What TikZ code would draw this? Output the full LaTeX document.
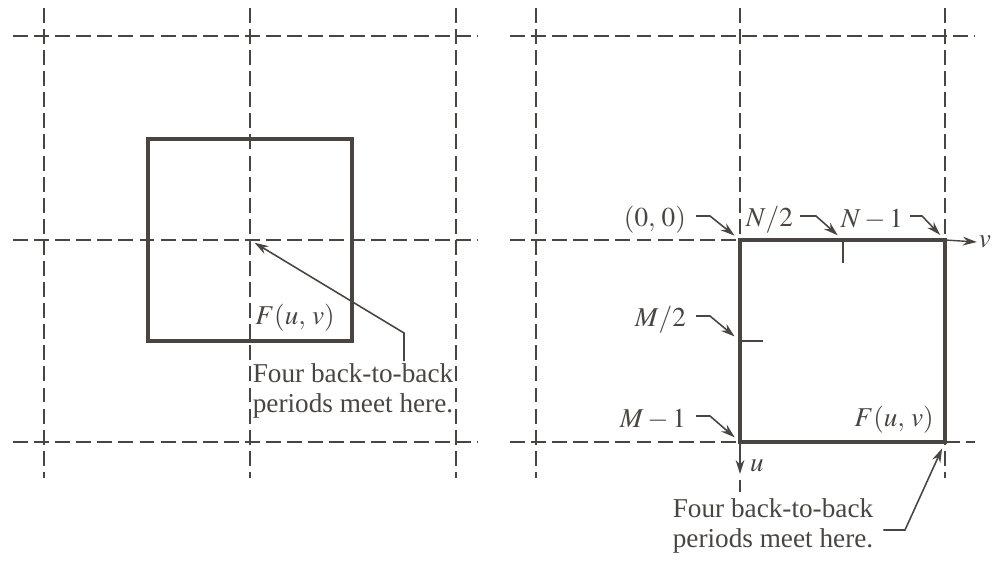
\documentclass[tikz,border=0pt]{standalone}
\usepackage{mathptmx}
\usepackage{fontspec}
\setmainfont{Liberation Serif}
\usetikzlibrary{arrows.meta,positioning}
\definecolor{ink}{HTML}{4A4541}

\begin{document}
\begin{tikzpicture}[
    x=0.02cm, y=-0.02cm,
    font=\fontsize{15.5}{17.5}\selectfont,
    grid/.style={draw=ink, line width=0.6pt, dash pattern=on 8.5pt off 3.5pt},
    period/.style={draw=ink, line width=2.2pt},
    tick/.style={draw=ink, line width=0.7pt},
    axis/.style={draw=ink, line width=0.8pt, -{Stealth[length=8pt,width=5pt]}},
    pointer/.style={draw=ink, line width=0.9pt, -{Stealth[length=8pt,width=5pt]}},
    lbl/.style={text=ink, inner sep=1pt}
]
  \useasboundingbox (0,0) rectangle (994,564);

  % left: four periods around the origin
  \foreach \x in {44,250,456} \draw[grid] (\x,8) -- (\x,478);
  \foreach \y in {36,240,442} \draw[grid] (13,\y) -- (478,\y);
  \draw[period] (148,139) rectangle (352,341);
  \node[lbl] (lF) at (295,318) {$F(u,\,v)$};
  \coordinate (lmeet) at (250,240);
  \coordinate (lbend) at (404,333);
  \node[lbl, align=left] (lnote) at (353,391) {Four back-to-back\\periods meet here.};
  \draw[pointer, shorten >=3pt] (lnote.north -| lbend) -- (lbend) -- (lmeet);

  % right: one period starting at (0,0)
  \foreach \x in {536,945} \draw[grid] (\x,8) -- (\x,478);
  \draw[grid] (740,8) -- (740,240);
  \draw[grid] (740,480) -- (740,492);
  \draw[grid] (510,36) -- (975,36);
  \draw[grid] (510,240) -- (740,240);
  \draw[grid] (510,442) -- (740,442);
  \draw[grid] (945,442) -- (975,442);
  \draw[period] (740,240) rectangle (945,442);
  \coordinate (c00) at (740,240);
  \coordinate (cN2) at (843,240);
  \coordinate (cN1) at (945,240);
  \coordinate (cM2) at (740,341);
  \coordinate (cM1) at (740,442);
  \coordinate (cend) at (945,442);
  \draw[tick] (cN2) -- ++(0,23);
  \draw[tick] (cM2) -- ++(23,0);

  \node[lbl] (v) at (985,242) {$v$};
  \node[lbl] (u) at (757,466) {$u$};
  \draw[axis] (cN1) -- (v.west);
  \draw[axis] (cM1) -- (740,474);

  \node[lbl, anchor=east] (l00) at (688,220) {$(0,\,0)$};
  \node[lbl, anchor=east] (lN2) at (795,220) {$N/2$};
  \node[lbl, anchor=east] (lN1) at (905,220) {$N-1$};
  \node[lbl, anchor=east] (lM2) at (688,320) {$M/2$};
  \node[lbl, anchor=east] (lM1) at (688,420) {$M-1$};
  \node[lbl] (rF) at (894,420) {$F(u,\,v)$};

  \draw[pointer, shorten >=4pt] (l00.east) ++(8,-4) -- ++(14,0) -- (c00);
  \draw[pointer, shorten >=4pt] (lN2.east) ++(5,-4) -- ++(16,0) -- (cN2);
  \draw[pointer, shorten >=4pt] (lN1.east) ++(5,-4) -- ++(12,0) -- (cN1);
  \draw[pointer, shorten >=4pt] (lM2.east) ++(8,-4) -- ++(14,0) -- (cM2);
  \draw[pointer, shorten >=4pt] (lM1.east) ++(8,-4) -- ++(14,0) -- (cM1);

  \node[lbl, align=left] (rnote) at (773,526) {Four back-to-back\\periods meet here.};
  \coordinate (rbend) at (905,530);
  \draw[pointer, shorten >=4pt] (rnote.east |- rbend) ++(8,0) -- (rbend) -- (cend);
\end{tikzpicture}
\end{document}
